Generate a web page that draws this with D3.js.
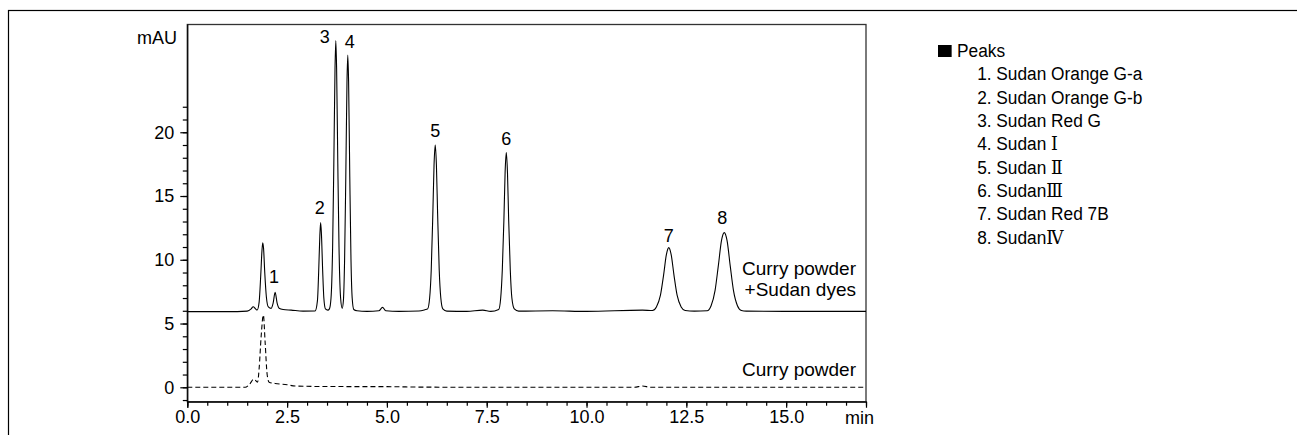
<!DOCTYPE html>
<html>
<head>
<meta charset="utf-8">
<title>Curry powder chromatogram</title>
<style>
  body { margin: 0; background: #fff; }
  svg { display: block; font-family: "Liberation Sans", Arial, sans-serif; }
  .axis text { font-size: 18px; fill: #000; }
  .axis path, .axis line { stroke: #000; stroke-width: 1.2px; }
  .roman { font-family: "DejaVu Serif", "Liberation Serif", serif; }
</style>
</head>
<body>
<div id="chart"></div>
<script src="https://cdn.jsdelivr.net/npm/d3@7"></script>
<script>
// sample trace (curry powder spiked with Sudan dyes), time in min, signal in mAU
const spikedTime = [0, 1.0, 1.5, 1.6, 1.65, 1.71, 1.75, 1.80, 1.84, 1.87, 1.89, 1.91, 1.94, 1.98, 2.03, 2.10,
  2.15, 2.20, 2.25, 2.30, 2.40, 2.60, 2.90, 3.20, 3.26, 3.29, 3.32, 3.34, 3.36, 3.39, 3.42, 3.46, 3.52,
  3.56, 3.60, 3.64, 3.67, 3.70, 3.72, 3.74, 3.77, 3.80, 3.84, 3.88, 3.91, 3.94, 3.97, 4.00, 4.02, 4.04,
  4.07, 4.10, 4.13, 4.17, 4.25, 4.50, 4.80, 4.89, 4.97, 5.30, 5.80, 5.95, 6.02, 6.07, 6.11, 6.15, 6.18,
  6.21, 6.24, 6.27, 6.31, 6.35, 6.40, 6.50, 7.00, 7.40, 7.60, 7.80, 7.85, 7.89, 7.93, 7.96, 7.99, 8.02,
  8.05, 8.09, 8.13, 8.19, 8.30, 9.15, 10.0, 11.4, 11.65, 11.75, 11.85, 11.93, 12.00, 12.06, 12.12, 12.19,
  12.27, 12.37, 12.47, 12.70, 13.02, 13.12, 13.22, 13.30, 13.38, 13.45, 13.52, 13.60, 13.68, 13.78, 13.88,
  14.00, 15.0, 17.0];
const spikedSignal = [5.93, 5.93, 5.97, 6.15, 6.32, 6.15, 6.06, 6.7, 8.8, 10.7, 11.34, 10.9, 9.0, 7.1, 6.3, 6.19,
  6.6, 7.45, 6.6, 6.2, 6.1, 6.05, 5.97, 5.98, 6.8, 9.0, 11.9, 12.91, 12.0, 9.2, 7.0, 6.15, 6.05,
  6.15, 7.0, 11.0, 17.5, 25.0, 27.2, 25.0, 17.5, 11.0, 7.0, 6.19, 6.8, 10.0, 16.5, 24.0, 26.06, 24.0,
  16.5, 10.0, 7.0, 6.1, 6.0, 5.95, 6.0, 6.27, 6.0, 5.95, 5.98, 6.08, 6.15, 7.0, 9.2, 13.6, 17.4,
  19.0, 17.4, 13.6, 9.2, 7.0, 6.15, 5.97, 5.95, 6.05, 5.95, 6.1, 7.0, 9.2, 13.1, 16.8, 18.4, 16.8,
  13.1, 9.2, 7.0, 6.15, 5.97, 6.0, 5.95, 6.05, 6.02, 6.3, 7.2, 8.8, 10.4, 10.95, 10.4, 8.8,
  7.2, 6.3, 6.02, 5.97, 6.0, 6.4, 7.6, 9.5, 11.5, 12.13, 11.5, 9.5, 7.6, 6.4, 6.02,
  5.97, 5.95, 5.95];

// blank trace (curry powder only)
const blankTime = [0, 1.45, 1.55, 1.67, 1.76, 1.80, 1.85, 1.905, 1.95, 2.0, 2.05, 2.2, 2.5, 2.7, 3.5, 5.0, 6.0, 11.2, 11.4, 11.6, 17.0];
const blankSignal = [0, 0, 0.2, 0.65, 0.4, 1.5, 4.0, 5.67, 3.5, 1.0, 0.4, 0.3, 0.2, 0.1, 0.06, 0.05, 0.01, 0, 0.1, 0, 0];

// numbered peaks: retention time and apex height
const peakNo = ["1", "2", "3", "4", "5", "6", "7", "8"];
const peakTime = [2.20, 3.34, 3.72, 4.02, 6.21, 7.99, 12.06, 13.45];
const peakTop = [7.45, 12.91, 27.2, 26.06, 19.0, 18.4, 10.95, 12.13];

const peakNames = [
  ["1. Sudan Orange G-a"], ["2. Sudan Orange G-b"], ["3. Sudan Red G"],
  ["4. Sudan ", "Ⅰ"], ["5. Sudan ", "Ⅱ"], ["6. Sudan", "Ⅲ"], ["7. Sudan Red 7B"], ["8. Sudan", "Ⅳ"]
];

const xMajor = [0, 2.5, 5, 7.5, 10, 12.5, 15];
const xMinor = d3.range(0, 17.01, 0.5);
const yMajor = [0, 5, 10, 15, 20];
const yMinor = d3.range(-1, 22.01, 1);

// label nudges (px) relative to apex: [dx, dy]
const labelNudge = [[-1, -9], [-1, -9], [-11, 3], [2, -7], [0, -8], [0, -8], [0, -6], [-2, -9]];

const W = 1297, H = 435;
const svg = d3.select("#chart").append("svg").attr("width", W).attr("height", H);

// outer frame (open to the right and bottom)
svg.append("rect").attr("x", 8.5).attr("y", 10.5).attr("width", 1400).attr("height", 600)
  .attr("fill", "none").attr("stroke", "#000").attr("stroke-width", 1.2);

const plot = { left: 187.3, right: 866, top: 24.5, bottom: 401.7 };
const x = d3.scaleLinear().domain([0, 17]).range([plot.left, plot.right]);
const y = d3.scaleLinear().domain([-1.13, 28.45]).range([plot.bottom, plot.top]);

svg.append("defs").append("clipPath").attr("id", "clip").append("rect")
  .attr("x", plot.left).attr("y", plot.top)
  .attr("width", plot.right - plot.left).attr("height", plot.bottom - plot.top);

// plot box
svg.append("rect").attr("x", plot.left).attr("y", plot.top)
  .attr("width", plot.right - plot.left).attr("height", plot.bottom - plot.top)
  .attr("fill", "none").attr("stroke", "#333").attr("stroke-width", 1.3);

// axes
svg.append("g").attr("class", "axis").attr("transform", `translate(0,${plot.bottom})`)
  .call(d3.axisBottom(x).tickValues(xMinor).tickSize(4).tickFormat(""))
  .call(g => g.select(".domain").remove());
svg.append("g").attr("class", "axis").attr("transform", `translate(0,${plot.bottom})`)
  .call(d3.axisBottom(x).tickValues(xMajor).tickSize(6).tickPadding(3).tickFormat(d3.format(".1f")));

svg.append("g").attr("class", "axis").attr("transform", `translate(${plot.left},0)`)
  .call(d3.axisLeft(y).tickValues(yMinor).tickSize(4.5).tickFormat(""))
  .call(g => g.select(".domain").remove());
svg.append("g").attr("class", "axis").attr("transform", `translate(${plot.left},0)`)
  .call(d3.axisLeft(y).tickValues(yMajor).tickSize(7).tickPadding(6))
  .call(g => g.select(".domain").attr("d", `M0.5,${plot.bottom}V${plot.top}`));

svg.append("text").attr("x", 177).attr("y", 44).attr("text-anchor", "end")
  .attr("font-size", 18).text("mAU");
svg.append("text").attr("x", 874).attr("y", 424).attr("text-anchor", "end")
  .attr("font-size", 18).text("min");

// traces
const line = d3.line().x(d => x(d[0])).y(d => y(d[1])).curve(d3.curveMonotoneX);
const traces = svg.append("g").attr("clip-path", "url(#clip)");
traces.append("path").datum(d3.zip(spikedTime, spikedSignal))
  .attr("d", line).attr("fill", "none").attr("stroke", "#000").attr("stroke-width", 1.1);
traces.append("path").datum(d3.zip(blankTime, blankSignal))
  .attr("d", line).attr("fill", "none").attr("stroke", "#000").attr("stroke-width", 1.1)
  .attr("stroke-dasharray", "5,3");

// peak numbers
svg.append("g").selectAll("text").data(peakNo).join("text")
  .attr("x", (d, i) => x(peakTime[i]) + labelNudge[i][0])
  .attr("y", (d, i) => y(peakTop[i]) + labelNudge[i][1])
  .attr("text-anchor", "middle").attr("font-size", 18).text(d => d);

// trace names
const names = svg.append("g").attr("text-anchor", "end").attr("font-size", 19);
names.append("text").attr("x", 856).attr("y", 275).text("Curry powder");
names.append("text").attr("x", 856).attr("y", 296).text("+Sudan dyes");
names.append("text").attr("x", 856).attr("y", 376).text("Curry powder");

// legend (type is slightly condensed in the original)
const legend = svg.append("g").attr("transform", "translate(938,0) scale(0.91,1)").attr("font-size", 19);
legend.append("rect").attr("x", 0).attr("y", 45).attr("width", 15).attr("height", 12).attr("fill", "#000");
legend.append("text").attr("x", 21).attr("y", 57).text("Peaks");
legend.selectAll("text.item").data(peakNames).join("text")
  .attr("class", "item")
  .attr("x", 43).attr("y", (d, i) => 80.5 + i * 23.3)
  .each(function (d) {
    const t = d3.select(this);
    t.append("tspan").text(d[0]);
    if (d[1]) t.append("tspan").attr("class", "roman").text(d[1]);
  });
</script>
</body>
</html>
